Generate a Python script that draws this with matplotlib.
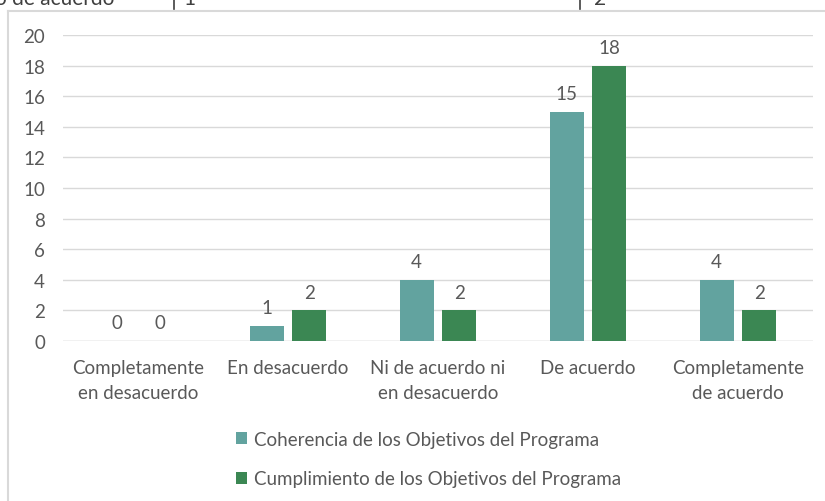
import matplotlib.pyplot as plt
import numpy as np
from matplotlib.lines import Line2D

# categorías y valores
categorias = ["Completamente\nen desacuerdo", "En desacuerdo", "Ni de acuerdo ni\nen desacuerdo",
              "De acuerdo", "Completamente\nde acuerdo"]
coherencia = [0, 1, 4, 15, 4]
cumplimiento = [0, 2, 2, 18, 2]
nombres = ["Coherencia de los Objetivos del Programa", "Cumplimiento de los Objetivos del Programa"]
yticks = list(range(0, 21, 2))

plt.rcParams['font.family'] = ['Lato', 'DejaVu Sans']
gris = '#595959'
c_teal = '#62A39F'
c_verde = '#3B8753'
fs = 13.5

fig = plt.figure(figsize=(8.25, 5.02), dpi=100)
ax = fig.add_axes([63 / 825, 1 - 342 / 502, 750 / 825, 306 / 502])

x = np.arange(len(categorias))
ancho = 0.227
off = 0.143
b1 = ax.bar(x - off, coherencia, ancho, color=c_teal, label=nombres[0], zorder=3)
b2 = ax.bar(x + off, cumplimiento, ancho, color=c_verde, label=nombres[1], zorder=3)

for barras in (b1, b2):
    for b in barras:
        h = b.get_height()
        ax.annotate(f"{int(h)}", (b.get_x() + b.get_width() / 2, h), xytext=(0, 7),
                    textcoords='offset points', ha='center', va='bottom', fontsize=fs, color=gris)

ax.set_xlim(-0.5, 4.5)
ax.set_ylim(0, 20)
ax.set_yticks(yticks)
ax.set_xticks(x)
ax.set_xticklabels(categorias, fontsize=fs, color=gris, linespacing=1.55)
ax.tick_params(axis='y', length=0, pad=13, labelsize=fs, labelcolor=gris)
ax.tick_params(axis='x', length=0, pad=13)
ax.grid(axis='y', color='#d9d9d9', linewidth=1, zorder=0)
for s in ax.spines.values():
    s.set_visible(False)
ax.axhline(0, color='#d9d9d9', linewidth=1, zorder=1)

leg = fig.legend(handles=[b1, b2], labels=nombres, loc='upper left',
                 bbox_to_anchor=(219 / 825, 1 - 415 / 502), frameon=False, fontsize=fs,
                 labelcolor=gris, handlelength=0.6, handleheight=0.6, handletextpad=0.35,
                 labelspacing=1.2)

# borde del área del gráfico (solo arriba e izquierda visibles)
borde = '#d9d9d9'
fig.add_artist(Line2D([8 / 825, 8 / 825], [0, 1 - 12 / 502], color=borde, linewidth=1.5))
fig.add_artist(Line2D([8 / 825, 1], [1 - 12 / 502, 1 - 12 / 502], color=borde, linewidth=1.5))

# resto de la tabla recortada arriba
for xl in (174, 580):
    fig.add_artist(Line2D([xl / 825, xl / 825], [1, 1 - 10 / 502], color='#404040', linewidth=1.2))
fig.text(-5 / 825, 1 - 5 / 502, "o de acuerdo", fontsize=15, color='#404040', va='baseline')
fig.text(183 / 825, 1 - 5 / 502, "1", fontsize=15, color='#404040', va='baseline')
fig.text(594 / 825, 1 - 5 / 502, "2", fontsize=15, color='#404040', va='baseline')

fig.savefig('out.png', dpi=100)
